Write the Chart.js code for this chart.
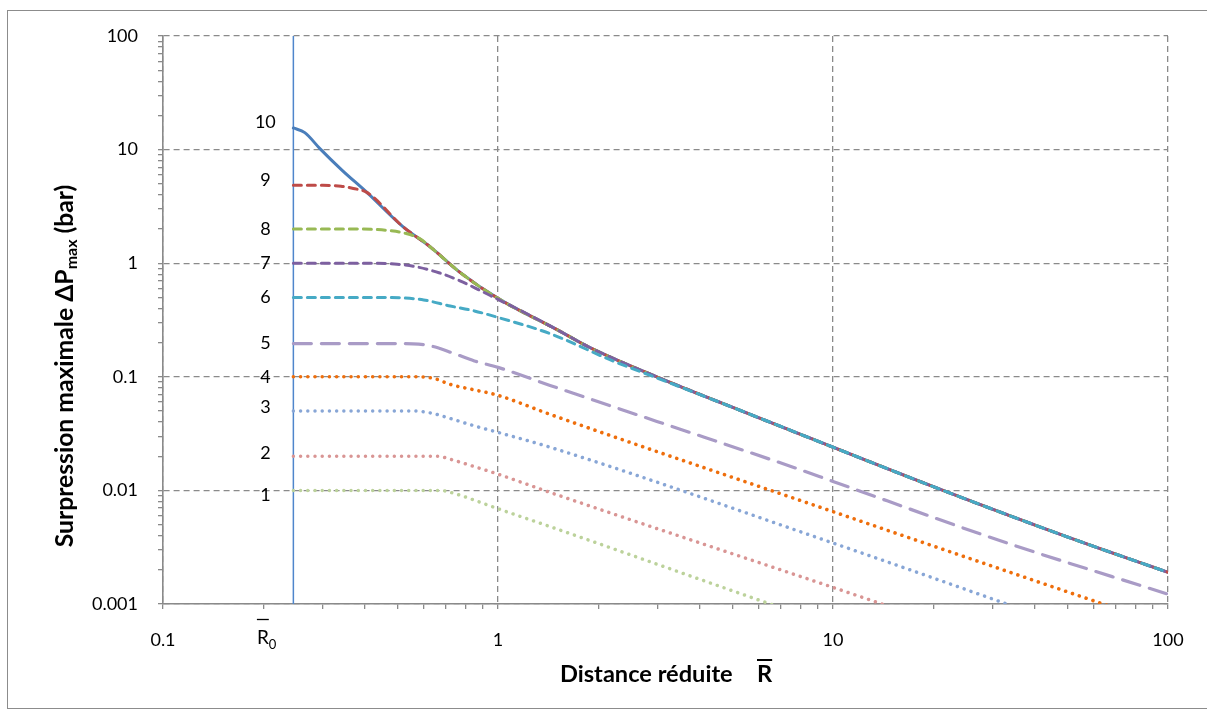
<!DOCTYPE html>
<html>
<head>
<meta charset="utf-8">
<script src="https://cdn.jsdelivr.net/npm/chart.js@4.4.0/dist/chart.umd.min.js"></script>
<style>
  html, body { margin: 0; padding: 0; background: #fff; }
  canvas { display: block; }
</style>
</head>
<body>
<canvas id="chart" width="1207" height="716"></canvas>
<script>
// curve numbers, from strongest (10) to weakest (1)
const curveNames = ["10", "9", "8", "7", "6", "5", "4", "3", "2", "1"];

// reduced distance R and peak overpressure (bar)
const dist10 = [0.245, 0.265, 0.294, 0.342, 0.406, 0.52, 0.63, 0.77, 1, 1.5, 1.88, 3, 5, 10, 21.3, 50, 100];
const pres10 = [15.5, 14.1, 10.2, 6.6, 4.2, 2.1, 1.38, 0.83, 0.49, 0.26, 0.181, 0.099, 0.054, 0.024, 0.01, 0.0039, 0.0019];

const dist9 = [0.245, 0.3, 0.34, 0.37, 0.406, 0.52, 0.63, 0.77, 1, 1.5, 1.88, 3, 5, 10, 21.3, 50, 100];
const pres9 = [4.85, 4.85, 4.75, 4.55, 4.2, 2.1, 1.38, 0.83, 0.49, 0.26, 0.181, 0.099, 0.054, 0.024, 0.01, 0.0039, 0.0019];

const dist8 = [0.245, 0.35, 0.43, 0.48, 0.53, 0.585, 0.63, 0.77, 1, 1.5, 1.88, 3, 5, 10, 21.3, 50, 100];
const pres8 = [2, 2, 1.98, 1.93, 1.83, 1.64, 1.38, 0.83, 0.49, 0.26, 0.181, 0.099, 0.054, 0.024, 0.01, 0.0039, 0.0019];

const dist7 = [0.245, 0.43, 0.5, 0.57, 0.67, 0.77, 0.88, 1, 1.2, 1.5, 1.88, 3, 5, 10, 21.3, 50, 100];
const pres7 = [1, 1, 0.98, 0.93, 0.82, 0.7, 0.58, 0.48, 0.368, 0.26, 0.181, 0.099, 0.054, 0.024, 0.01, 0.0039, 0.0019];

const dist6 = [0.245, 0.45, 0.52, 0.6, 0.72, 0.85, 1, 1.43, 2.2, 3, 5, 10, 21.3, 50, 100];
const pres6 = [0.5, 0.5, 0.495, 0.475, 0.42, 0.38, 0.333, 0.24, 0.138, 0.097, 0.054, 0.024, 0.01, 0.0039, 0.0019];

const dist5 = [0.245, 0.52, 0.58, 0.65, 0.74, 0.85, 1, 1.43, 2.98, 7.6, 10, 31.6, 100];
const pres5 = [0.196, 0.196, 0.194, 0.183, 0.16, 0.138, 0.121, 0.084, 0.0405, 0.016, 0.012, 0.0036, 0.00122];

const dist4 = [0.245, 0.58, 0.65, 0.72, 0.85, 1, 1.43, 10, 64, 100];
const pres4 = [0.1, 0.1, 0.096, 0.0857, 0.0767, 0.0687, 0.0467, 0.0065, 0.001, 0.00064];

const dist3 = [0.245, 0.56, 0.63, 0.72, 0.85, 1, 1.43, 10, 33, 45];
const pres3 = [0.05, 0.05, 0.048, 0.043, 0.037, 0.0324, 0.024, 0.00344, 0.001, 0.00072];

const dist2 = [0.245, 0.66, 0.72, 0.85, 1, 1.43, 10, 14, 20];
const pres2 = [0.02, 0.02, 0.0188, 0.0162, 0.0139, 0.0096, 0.0014, 0.001, 0.0007];

const dist1 = [0.245, 0.67, 0.75, 0.85, 1, 1.43, 6.5, 9];
const pres1 = [0.01, 0.01, 0.0093, 0.0082, 0.0069, 0.0048, 0.001, 0.00072];

// the R0 marker line
const r0Dist = [0.245, 0.245];
const r0Pres = [0.001, 100];

// axes
const xMajorTicks = [0.1, 1, 10, 100];
const xTickLabels = ["0.1", "1", "10", "100"];
const yMajorTicks = [0.001, 0.01, 0.1, 1, 10, 100];
const yTickLabels = ["0.001", "0.01", "0.1", "1", "10", "100"];
const r0Tick = 0.2;

const allDist = [dist10, dist9, dist8, dist7, dist6, dist5, dist4, dist3, dist2, dist1];
const allPres = [pres10, pres9, pres8, pres7, pres6, pres5, pres4, pres3, pres2, pres1];

const FONT = "Lato, 'Open Sans', sans-serif";
const GRID = "#8a8a8a";

// look of each curve
const colors = ["#4a7ebb", "#be4b48", "#98b954", "#7d60a0", "#46aac5", "#a99bc6", "#ee6e0c", "#88a6d6", "#d99594", "#bcd29b"];
const dashes = [[], [8, 6], [8, 6], [8, 6], [8, 6], [18, 10], [0.01, 7.2], [0.01, 7.2], [0.01, 7.2], [0.01, 7.2]];
const widths = [3, 3, 3, 3, 3, 3.2, 3.6, 3.5, 3.5, 3.5];
const labelNudge = { "10": -6, "9": -5, "3": -4, "2": -3, "1": 5 };

function pairs(xs, ys) {
  return xs.map((v, i) => ({ x: v, y: ys[i] }));
}

function decadeTicks(majors) {
  const out = [];
  majors.forEach((d, i) => {
    out.push({ value: d, major: true });
    if (i < majors.length - 1) {
      for (let k = 2; k <= 9; k++) out.push({ value: d * k, major: false });
    }
  });
  return out;
}

const datasets = curveNames.map((name, i) => ({
  label: name,
  tag: name,
  data: pairs(allDist[i], allPres[i]),
  showLine: true,
  borderColor: colors[i],
  borderWidth: widths[i],
  borderDash: dashes[i],
  borderCapStyle: "round",
  borderJoinStyle: "round",
  cubicInterpolationMode: "monotone",
  pointRadius: 0,
  order: Number(name)
}));

datasets.push({
  label: "R0",
  data: pairs(r0Dist, r0Pres),
  showLine: true,
  borderColor: "#4f86cc",
  borderWidth: 1.5,
  pointRadius: 0,
  order: 20
});

function gridOpts() {
  return {
    color: c => (c.tick && c.tick.major ? GRID : "rgba(0,0,0,0)"),
    lineWidth: 1.3,
    tickColor: GRID,
    tickWidth: 1.3,
    tickLength: 5,
    drawTicks: true
  };
}

const decor = {
  id: "decor",
  beforeDraw(chart) {
    const c = chart.ctx;
    c.save();
    c.fillStyle = "#fff";
    c.fillRect(0, 0, chart.width, chart.height);
    c.strokeStyle = "#8c8c8c";
    c.lineWidth = 1;
    c.strokeRect(7.5, 10.5, chart.width + 10, chart.height - 18);
    c.restore();
  },
  afterDraw(chart) {
    const c = chart.ctx;
    const { x, y } = chart.scales;
    c.save();
    c.fillStyle = "#000";

    // curve numbers beside the R0 line
    c.font = "18px " + FONT;
    c.textAlign = "center";
    c.textBaseline = "middle";
    chart.data.datasets.forEach(ds => {
      if (!ds.tag) return;
      const p = ds.data[0];
      c.fillText(ds.tag, x.getPixelForValue(p.x) - 28, y.getPixelForValue(p.y) + (labelNudge[ds.tag] || 0));
    });

    // R0 tick label
    const rx = x.getPixelForValue(r0Tick);
    c.font = "19px " + FONT;
    c.textAlign = "center";
    c.textBaseline = "alphabetic";
    const rw = c.measureText("R").width;
    c.fillText("R", rx - 1, 644);
    c.font = "13px " + FONT;
    c.textAlign = "left";
    c.fillText("0", rx - 1 + rw / 2, 649);
    c.strokeStyle = "#000";
    c.lineWidth = 1.3;
    c.beginPath();
    c.moveTo(rx - 1 - rw / 2, 619.5);
    c.lineTo(rx - 1 + rw / 2, 619.5);
    c.stroke();

    // x axis title
    let fs = 18;
    c.font = "bold " + fs + "px " + FONT;
    fs = fs * 173 / c.measureText("Distance réduite").width;
    c.font = "bold " + fs.toFixed(1) + "px " + FONT;
    c.textAlign = "left";
    c.textBaseline = "alphabetic";
    c.fillText("Distance réduite", 560, 682);
    const Rw = c.measureText("R").width;
    c.fillText("R", 757, 682);
    c.beginPath();
    c.lineWidth = 2;
    c.moveTo(757, 660);
    c.lineTo(757 + Rw, 660);
    c.stroke();

    // y axis title, rotated, with subscript
    const partA = "Surpression maximale ΔP";
    const partB = "max";
    const partC = " (bar)";
    let ys = 18;
    c.font = "bold " + ys + "px " + FONT;
    const wA0 = c.measureText(partA).width + c.measureText(partC).width;
    c.font = "bold " + Math.round(ys * 0.65) + "px " + FONT;
    const wB0 = c.measureText(partB).width;
    ys = ys * 363 / (wA0 + wB0);
    c.font = "bold " + ys.toFixed(1) + "px " + FONT;
    const wA = c.measureText(partA).width;
    const wC = c.measureText(partC).width;
    const subFont = "bold " + (ys * 0.65).toFixed(1) + "px " + FONT;
    c.font = subFont;
    const wB = c.measureText(partB).width;
    const total = wA + wB + wC;
    c.translate(73, 366);
    c.rotate(-Math.PI / 2);
    let px = -total / 2;
    c.font = "bold " + ys.toFixed(1) + "px " + FONT;
    c.fillText(partA, px, 0);
    px += wA;
    c.font = subFont;
    c.fillText(partB, px, 4);
    px += wB;
    c.font = "bold " + ys.toFixed(1) + "px " + FONT;
    c.fillText(partC, px, 0);
    c.restore();
  }
};

new Chart(document.getElementById("chart"), {
  type: "scatter",
  data: { datasets },
  options: {
    responsive: false,
    animation: false,
    devicePixelRatio: 1,
    layout: { padding: { left: 0, top: 36, right: 39, bottom: 0 } },
    plugins: { legend: { display: false }, tooltip: { enabled: false } },
    scales: {
      x: {
        type: "logarithmic",
        min: 0.1,
        max: 100,
        afterBuildTicks: s => { s.ticks = decadeTicks(xMajorTicks); },
        afterFit: s => { s.height = 112; },
        grid: gridOpts(),
        border: { display: true, color: GRID, width: 1.6, dash: [6, 4] },
        ticks: {
          autoSkip: false,
          maxRotation: 0,
          padding: 20,
          color: "#000",
          font: { family: FONT, size: 18 },
          callback: v => {
            const j = xMajorTicks.indexOf(v);
            return j >= 0 ? xTickLabels[j] : "";
          }
        }
      },
      y: {
        type: "logarithmic",
        min: 0.001,
        max: 100,
        afterBuildTicks: s => { s.ticks = decadeTicks(yMajorTicks); },
        afterFit: s => { s.width = 163; },
        grid: gridOpts(),
        border: { display: true, color: GRID, width: 1.6, dash: [6, 4] },
        ticks: {
          autoSkip: false,
          padding: 20,
          color: "#000",
          font: { family: FONT, size: 18 },
          callback: v => {
            const j = yMajorTicks.indexOf(v);
            return j >= 0 ? yTickLabels[j] : "";
          }
        }
      }
    }
  },
  plugins: [decor]
});
</script>
</body>
</html>
